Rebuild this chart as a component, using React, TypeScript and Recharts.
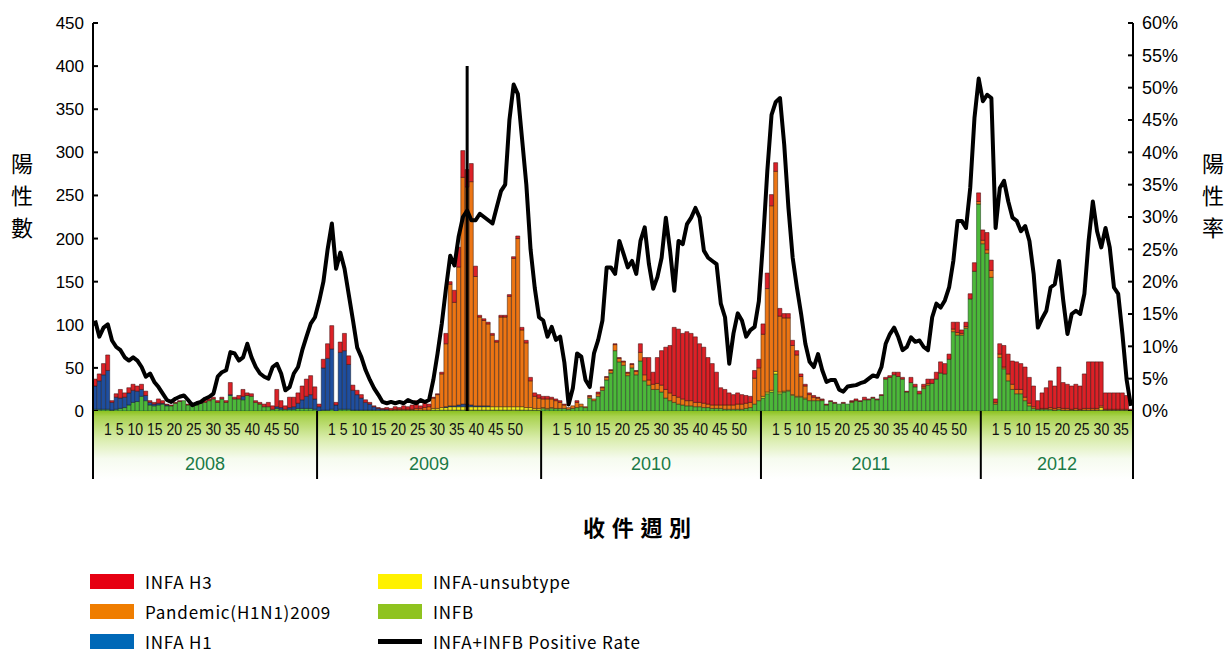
import React from "react";
import {
  Bar,
  ComposedChart,
  Legend,
  Line,
  ReferenceLine,
  XAxis,
  YAxis
} from "recharts";

// weekly positives by subtype, one array per year (weeks 1..n)
const YEARS = ["2008", "2009", "2010", "2011", "2012"];

const H3_2008 = [8, 8, 13, 18, 2, 4, 10, 5, 6, 7, 6, 6, 5, 2, 2, 5, 3, 1, 1, 1, 1, 0, 1, 0, 1, 1, 2, 2, 2, 2, 2, 2, 14, 2, 4, 8, 3, 3, 2, 2, 3, 5, 4, 20, 8, 4, 12, 11, 12, 16, 20, 22, 14];
const H1_2008 = [27, 33, 40, 45, 9, 14, 12, 12, 14, 14, 12, 8, 6, 3, 2, 2, 1, 1, 0, 0, 0, 0, 0, 0, 0, 0, 0, 0, 0, 0, 0, 0, 1, 0, 0, 4, 0, 0, 0, 0, 0, 0, 0, 2, 2, 0, 2, 3, 6, 10, 14, 16, 12];
const B_2008 = [2, 2, 2, 2, 1, 2, 3, 4, 7, 10, 11, 17, 12, 7, 6, 7, 8, 6, 6, 9, 11, 12, 7, 6, 7, 9, 10, 12, 14, 10, 14, 10, 18, 14, 14, 13, 18, 17, 10, 8, 5, 5, 2, 3, 2, 2, 2, 2, 3, 3, 3, 3, 2];
const PDM_2008: number[] = []; // pandemic strain not yet around
const UNS_2008: number[] = [];
const RATE_2008 = [14.0, 11.5, 12.9, 13.4, 10.9, 9.9, 9.4, 8.3, 7.8, 8.3, 7.8, 6.8, 5.3, 5.8, 4.5, 3.7, 2.7, 1.7, 1.4, 1.9, 2.2, 2.4, 1.7, 0.9, 1.2, 1.4, 1.9, 2.2, 2.7, 5.3, 6.0, 6.3, 9.1, 8.9, 7.8, 8.3, 10.4, 8.3, 6.8, 5.8, 5.3, 5.0, 6.8, 7.3, 5.8, 3.2, 3.7, 5.8, 6.8, 9.4, 11.5, 13.5, 14.5];

const H3_2009 = [3, 10, 17, 27, 3, 12, 20, 10, 6, 5, 4, 3, 2, 1, 1, 1, 2, 2, 3, 2, 4, 3, 5, 9, 3, 6, 3, 1, 1, 2, 12, 3, 14, 23, 31, 20, 21, 12, 2, 2, 2, 2, 2, 2, 2, 2, 2, 3, 3, 3, 4, 4, 4];
const H1_2009 = [5, 49, 60, 70, 7, 66, 68, 52, 23, 18, 14, 9, 7, 4, 2, 1, 1, 0, 0, 0, 0, 0, 0, 0, 0, 0, 0, 0, 0, 0, 1, 1, 1, 2, 3, 3, 2, 1, 1, 1, 1, 0, 0, 0, 0, 0, 0, 0, 0, 0, 0, 0, 0];
const PDM_2009 = [0, 0, 0, 0, 0, 0, 0, 0, 0, 0, 0, 0, 0, 0, 0, 0, 0, 0, 1, 1, 1, 1, 1, 2, 2, 3, 4, 12, 16, 39, 73, 141, 120, 160, 263, 252, 259, 150, 103, 99, 95, 83, 75, 104, 104, 128, 172, 195, 89, 75, 31, 14, 12];
const UNS_2009 = [0, 0, 0, 0, 0, 0, 0, 0, 0, 0, 0, 0, 0, 0, 0, 0, 0, 0, 0, 0, 0, 0, 0, 0, 0, 0, 0, 2, 2, 3, 3, 4, 4, 4, 4, 4, 4, 4, 4, 4, 4, 4, 4, 4, 4, 4, 4, 4, 4, 3, 3, 2, 2];
const B_2009 = [0, 1, 1, 2, 0, 2, 2, 2, 1, 1, 1, 1, 1, 1, 1, 1, 1, 1, 1, 1, 1, 1, 1, 1, 1, 1, 1, 1, 1, 1, 1, 1, 1, 1, 1, 1, 1, 1, 1, 1, 1, 1, 1, 1, 1, 1, 1, 1, 1, 1, 1, 1, 1];
const RATE_2009 = [17, 20, 25, 29, 22, 24.5, 22, 18, 14, 9.8, 8.3, 6.3, 4.8, 3.5, 2.5, 1.4, 1.2, 1.4, 1.2, 1.4, 1.2, 1.7, 1.4, 1.2, 1.7, 1.4, 1.7, 4.8, 8.9, 13.5, 19, 24, 22.5, 27, 30, 31, 29.5, 29.5, 30.5, 30, 29.5, 29, 31.5, 34, 35, 45, 50.5, 49, 42, 35, 25, 19, 14.5];

const H3_2010 = [3, 3, 2, 2, 2, 1, 0, 0, 2, 0, 0, 1, 0, 2, 1, 1, 1, 1, 1, 1, 1, 1, 1, 10, 20, 26, 14, 30, 40, 49, 55, 79, 79, 76, 80, 78, 76, 68, 65, 54, 48, 38, 20, 18, 14, 12, 13, 11, 9, 7, 9, 10];
const H1_2010: number[] = [];
const PDM_2010 = [10, 11, 10, 9, 7, 4, 2, 3, 6, 3, 1, 2, 2, 3, 3, 3, 3, 7, 4, 4, 3, 4, 4, 10, 7, 6, 6, 7, 8, 10, 9, 8, 8, 7, 6, 6, 5, 5, 5, 4, 4, 4, 4, 5, 5, 5, 6, 6, 6, 6, 30, 38];
const UNS_2010 = [1, 1, 1];
const B_2010 = [3, 2, 3, 3, 3, 3, 2, 3, 4, 5, 4, 15, 12, 17, 24, 36, 44, 70, 57, 53, 41, 50, 42, 58, 35, 30, 25, 25, 22, 15, 12, 10, 8, 7, 6, 6, 5, 5, 4, 4, 3, 3, 3, 2, 2, 2, 2, 2, 3, 4, 8, 12];
const RATE_2010 = [14, 11.5, 13, 11, 11.5, 7.5, 1, 3.5, 8.9, 8.4, 4.8, 3.7, 8.9, 11, 14, 22.2, 22.2, 21.2, 26.3, 24.3, 22.2, 23.2, 21.2, 26.3, 28.4, 22.7, 18.9, 20.7, 23.7, 29.9, 24.8, 18.6, 26.3, 25.8, 28.9, 29.9, 31.4, 29.9, 24.8, 23.7, 23.2, 22.7, 16.6, 14.5, 7.3, 12, 15.1, 14, 11.5, 12.5, 13, 17];

const H3_2011 = [12, 18, 13, 10, 9, 5, 5, 6, 5, 3, 2, 2, 2, 1, 1, 1, 1, 1, 0, 1, 0, 1, 2, 1, 3, 1, 1, 1, 1, 2, 2, 3, 5, 2, 1, 6, 3, 3, 3, 5, 5, 8, 13, 12, 6, 8, 12, 4, 5, 6, 10, 10];
const H1_2011: number[] = [];
const PDM_2011 = [72, 120, 214, 232, 88, 85, 84, 57, 48, 23, 14, 7, 4, 3, 1, 0, 0, 0, 0, 0, 0, 1, 0, 0, 0, 0, 0, 0, 0, 0, 0, 0, 0, 0, 0, 0, 0, 0, 2, 2, 0, 0, 0, 0, 0, 3, 3, 2, 2, 0, 0, 3];
const UNS_2011 = [2, 2, 2, 3, 2, 1, 1, 1, 1, 1, 1];
const B_2011 = [15, 20, 22, 43, 20, 22, 23, 18, 16, 16, 14, 12, 12, 12, 12, 7, 11, 9, 8, 9, 8, 10, 12, 11, 13, 13, 15, 13, 18, 37, 39, 42, 40, 37, 22, 33, 28, 20, 26, 30, 32, 37, 44, 43, 60, 92, 88, 88, 96, 130, 162, 240];
const RATE_2011 = [26.3, 37.1, 45.8, 47.8, 48.4, 41.2, 31.4, 23.7, 19.1, 15, 10.4, 7.6, 6.8, 8.8, 6.3, 4.5, 4.8, 4.8, 3.3, 3.0, 3.8, 3.9, 4, 4.3, 4.5, 5.0, 5.5, 5.3, 6.8, 10.4, 11.9, 12.9, 11.4, 9.4, 9.9, 11.4, 10.7, 10.9, 9.9, 9.4, 14.5, 16.6, 16, 17.1, 19.1, 23.2, 29.4, 29.4, 28.3, 34.5, 45.3, 51.4];

const H3_2012 = [12, 20, 12, 4, 12, 25, 23, 27, 32, 30, 35, 30, 24, 10, 18, 24, 31, 26, 47, 30, 28, 27, 28, 27, 40, 54, 54, 54, 51, 19, 19, 19, 19, 19, 16, 2];
const H1_2012: number[] = [];
const PDM_2012 = [4, 4, 8, 2, 4, 2, 8, 6, 5, 5, 4, 3, 2, 0, 1, 1, 2, 2, 2, 2, 2, 1, 2, 1, 2, 2, 2, 2, 2, 1, 1, 1, 1, 1, 1, 0];
const UNS_2012 = [0, 0, 0, 0, 0, 0, 0, 0, 0, 0, 0, 0, 0, 0, 0, 0, 0, 0, 0, 0, 0, 0, 0, 0, 0, 0, 0, 0, 3];
const B_2012 = [194, 183, 155, 8, 62, 49, 35, 25, 20, 20, 12, 6, 3, 2, 2, 2, 2, 1, 2, 1, 1, 1, 1, 1, 1, 1, 1, 1, 1, 1, 1, 1, 1, 1, 1, 0];
const RATE_2012 = [47.9, 48.9, 48.4, 28.3, 34.5, 35.6, 32.4, 29.9, 29.4, 27.8, 28.6, 26.3, 21.2, 12.9, 14.3, 15.5, 19.1, 19.6, 23.2, 17.1, 11.9, 15, 15.5, 15, 18.1, 26.3, 32.4, 27.8, 25.3, 28.3, 25.3, 19.1, 18.1, 11.9, 4.8, 0.8];

const WEEK_TEXT = [
  "1 5 10 15 20 25 30 35 40 45 50",
  "1 5 10 15 20 25 30 35 40 45 50",
  "1 5 10 15 20 25 30 35 40 45 50",
  "1 5 10 15 20 25 30 35 40 45 50",
  "1 5 10 15 20 25 30 35"
];

const COUNT_TICKS = [0, 50, 100, 150, 200, 250, 300, 350, 400, 450];
const RATE_TICKS = [0, 5, 10, 15, 20, 25, 30, 35, 40, 45, 50, 55, 60];

const SPIKE_WEEK = "2009-36";

const BAR_COLORS = { b: "#4cb83a", uns: "#f2ec1a", h1: "#1f4e9e", pdm: "#ec7514", h3: "#dc2127" };

const LEGEND_ITEMS = [
  { name: "INFA H3", color: "#e60012", col: 0, row: 0 },
  { name: "Pandemic(H1N1)2009", color: "#ef7d00", col: 0, row: 1 },
  { name: "INFA H1", color: "#0068b7", col: 0, row: 2 },
  { name: "INFA-unsubtype", color: "#fff100", col: 1, row: 0 },
  { name: "INFB", color: "#8fc31f", col: 1, row: 1 },
  { name: "INFA+INFB Positive Rate", color: "#000", col: 1, row: 2, line: true }
];

const byYear = [
  { year: "2008", h3: H3_2008, h1: H1_2008, pdm: PDM_2008, uns: UNS_2008, b: B_2008, rate: RATE_2008 },
  { year: "2009", h3: H3_2009, h1: H1_2009, pdm: PDM_2009, uns: UNS_2009, b: B_2009, rate: RATE_2009 },
  { year: "2010", h3: H3_2010, h1: H1_2010, pdm: PDM_2010, uns: UNS_2010, b: B_2010, rate: RATE_2010 },
  { year: "2011", h3: H3_2011, h1: H1_2011, pdm: PDM_2011, uns: UNS_2011, b: B_2011, rate: RATE_2011 },
  { year: "2012", h3: H3_2012, h1: H1_2012, pdm: PDM_2012, uns: UNS_2012, b: B_2012, rate: RATE_2012 }
];

const data = byYear.flatMap((s) =>
  s.rate.map((r, i) => ({
    key: `${s.year}-${i + 1}`,
    b: s.b[i] ?? 0,
    uns: s.uns[i] ?? 0,
    h1: s.h1[i] ?? 0,
    pdm: s.pdm[i] ?? 0,
    h3: s.h3[i] ?? 0,
    rate: r
  }))
);

const yearStarts = byYear.map((s) => `${s.year}-1`);
const CJK = "'Noto Sans CJK TC', 'Noto Sans CJK JP', sans-serif";
const SANS = "'Liberation Sans', Arial, sans-serif";

function YearTick(props: any) {
  const { x, y, payload } = props;
  const yi = YEARS.indexOf(String(payload.value).split("-")[0]);
  if (yi < 0) return null;
  const step = payload.offset ? payload.offset * 2 : 1040 / data.length;
  const left = x - step / 2;
  const w = byYear[yi].rate.length * step;
  const last = yi === YEARS.length - 1;
  return (
    <g>
      <rect x={left} y={y} width={w} height={68} fill="url(#bandFill)" />
      <line x1={left} x2={left} y1={y} y2={y + 68} stroke="#000" strokeWidth={2} />
      {last && <line x1={left + w} x2={left + w} y1={y} y2={y + 68} stroke="#000" strokeWidth={2} />}
      <text
        x={left + 11}
        y={y + 24}
        fontSize={16}
        fontFamily={SANS}
        fill="#111"
        textLength={last ? 137 : 195}
        lengthAdjust="spacingAndGlyphs"
      >
        {WEEK_TEXT[yi]}
      </text>
      <text x={left + w / 2} y={y + 59} fontSize={18} fontFamily={SANS} fill="#1a7a46" textAnchor="middle">
        {YEARS[yi]}
      </text>
    </g>
  );
}

function VerticalTitle({ text, cx }: { text: string; cx: number }) {
  return (
    <g>
      {text.split("").map((ch, i) => (
        <text key={i} x={cx} y={172 + i * 32} fontSize={22} fontFamily={CJK} textAnchor="middle" fill="#000">
          {ch}
        </text>
      ))}
    </g>
  );
}

function LegendBox() {
  return (
    <div style={{ position: "relative", width: 1227, height: 654 }}>
      {LEGEND_ITEMS.map((it) => {
        const left = it.col ? 378 : 90;
        const top = 574 + it.row * 30;
        return (
          <div key={it.name} style={{ position: "absolute", left, top, display: "flex", alignItems: "center", height: 15 }}>
            <div
              style={{
                width: 44,
                height: it.line ? 5 : 15,
                background: it.color
              }}
            />
            <span
              style={{
                marginLeft: 11,
                fontFamily: CJK,
                fontSize: 17,
                letterSpacing: 0.8,
                color: "#000",
                whiteSpace: "nowrap",
                lineHeight: "15px"
              }}
            >
              {it.name}
            </span>
          </div>
        );
      })}
    </div>
  );
}

export default function App() {
  return (
    <div style={{ width: 1227, height: 654, overflow: "hidden", background: "#fff" }}>
      <style>{"body{margin:0;overflow:hidden}"}</style>
      <ComposedChart
        width={1227}
        height={654}
        data={data}
        barCategoryGap={0}
        barGap={0}
        margin={{ top: 23, right: 0, bottom: 163, left: 0 }}
      >
        <defs>
          <linearGradient id="bandFill" x1="0" y1="0" x2="0" y2="1">
            <stop offset="0" stopColor="#8cc21f" />
            <stop offset="0.08" stopColor="#a9d24f" />
            <stop offset="0.4" stopColor="#d8ecaa" />
            <stop offset="0.7" stopColor="#f6fbef" />
            <stop offset="1" stopColor="#ffffff" />
          </linearGradient>
        </defs>
        <XAxis
          dataKey="key"
          ticks={yearStarts}
          interval={0}
          height={80}
          axisLine={false}
          tickLine={false}
          tickSize={0}
          tickMargin={0}
          tick={<YearTick />}
          label={{
            content: () => (
              <text x={583} y={536} fontSize={22} fontFamily={CJK} fontWeight={700} letterSpacing={6.7} fill="#000">
                收件週別
              </text>
            )
          }}
        />
        <YAxis
          yAxisId="left"
          width={93}
          domain={[0, 450]}
          ticks={COUNT_TICKS}
          interval={0}
          tickSize={-5}
          tickMargin={14}
          axisLine={{ stroke: "#000", strokeWidth: 2 }}
          tickLine={{ stroke: "#000", strokeWidth: 2 }}
          tick={{ fontSize: 17, fill: "#000", fontFamily: SANS }}
          label={{ content: () => <VerticalTitle text="陽性數" cx={22} /> }}
        />
        <YAxis
          yAxisId="right"
          orientation="right"
          width={94}
          domain={[0, 60]}
          ticks={RATE_TICKS}
          interval={0}
          tickSize={-5}
          tickMargin={14}
          tickFormatter={(v) => `${v}%`}
          axisLine={{ stroke: "#000", strokeWidth: 2 }}
          tickLine={{ stroke: "#000", strokeWidth: 2 }}
          tick={{ fontSize: 18, fill: "#000", fontFamily: SANS }}
          label={{ content: () => <VerticalTitle text="陽性率" cx={1213} /> }}
        />
        <Bar yAxisId="left" dataKey="b" name="INFB" stackId="s" fill={BAR_COLORS.b} stroke="#1f3a1a" strokeOpacity={0.75} strokeWidth={0.7} isAnimationActive={false} />
        <Bar yAxisId="left" dataKey="uns" name="INFA-unsubtype" stackId="s" fill={BAR_COLORS.uns} stroke="#3a3a1a" strokeOpacity={0.75} strokeWidth={0.7} isAnimationActive={false} />
        <Bar yAxisId="left" dataKey="h1" name="INFA H1" stackId="s" fill={BAR_COLORS.h1} stroke="#101a30" strokeOpacity={0.75} strokeWidth={0.7} isAnimationActive={false} />
        <Bar yAxisId="left" dataKey="pdm" name="Pandemic(H1N1)2009" stackId="s" fill={BAR_COLORS.pdm} stroke="#3a1a0a" strokeOpacity={0.75} strokeWidth={0.7} isAnimationActive={false} />
        <Bar yAxisId="left" dataKey="h3" name="INFA H3" stackId="s" fill={BAR_COLORS.h3} stroke="#3a0a0a" strokeOpacity={0.75} strokeWidth={0.7} isAnimationActive={false} />
        <ReferenceLine
          yAxisId="left"
          segment={[
            { x: SPIKE_WEEK, y: 0 },
            { x: SPIKE_WEEK, y: 400 }
          ]}
          stroke="#000"
          strokeWidth={3}
        />
        <Line
          yAxisId="right"
          dataKey="rate"
          type="linear"
          stroke="#000"
          strokeWidth={4}
          strokeLinejoin="round"
          dot={false}
          activeDot={false}
          isAnimationActive={false}
        />
        <Legend
          layout="horizontal"
          verticalAlign="middle"
          align="center"
          wrapperStyle={{ position: "absolute", left: 0, top: 0, width: 1227, height: 654, pointerEvents: "none" }}
          content={() => <LegendBox />}
        />
      </ComposedChart>
    </div>
  );
}
